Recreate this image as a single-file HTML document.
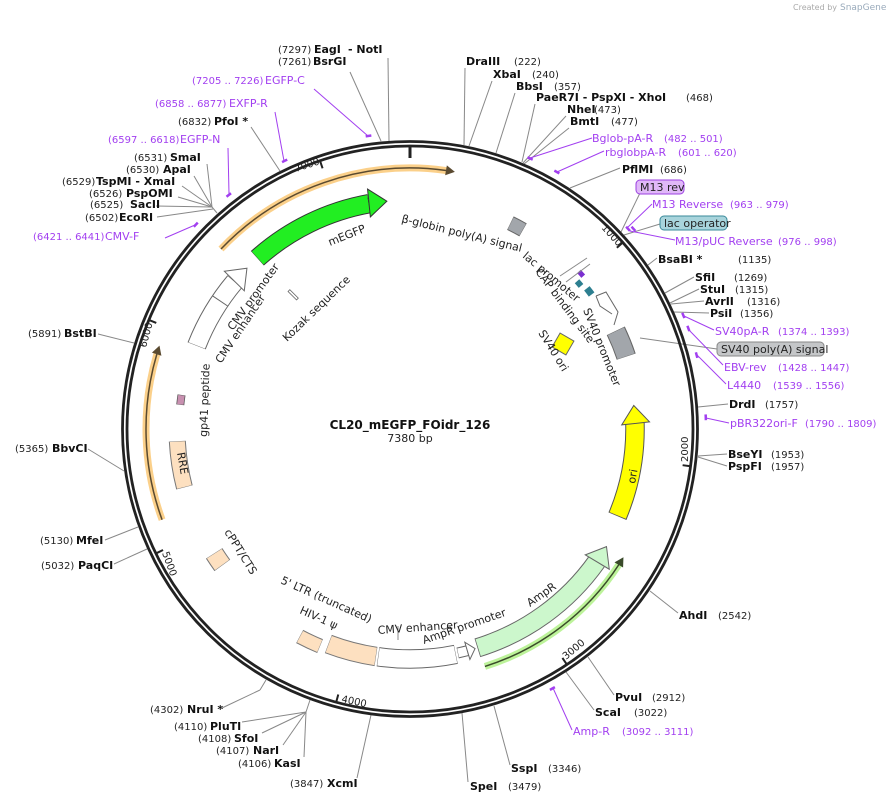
<!DOCTYPE html>
<html><head><meta charset="utf-8"><style>
html,body{margin:0;padding:0;background:#fff;width:891px;height:803px;overflow:hidden;}
svg{display:block;font-family:"DejaVu Sans","Liberation Sans",sans-serif;}
.n{font-size:10px;fill:#222;}
.b{font-size:11px;font-weight:bold;fill:#111;}
.p{font-size:11px;fill:#a23ff0;}
.pn{font-size:10px;fill:#a23ff0;}
.f{font-size:11px;fill:#222;}
.l{stroke:#888;stroke-width:1;fill:none;}
.pl{stroke:#a23ff0;stroke-width:1;fill:none;}
.pt{stroke:#a23ff0;stroke-width:2.5;fill:none;}
.t{font-size:10px;fill:#222;}
</style></head><body>
<svg width="891" height="803" viewBox="0 0 891 803" xmlns="http://www.w3.org/2000/svg">
<text x="793" y="10" font-size="8" fill="#aaa">Created by</text>
<text x="840" y="10" font-size="9" fill="#9ab">SnapGene</text>

<g class="l">
<line x1="464" y1="145" x2="465" y2="68"/>
<line x1="469" y1="146" x2="492" y2="81"/>
<line x1="496" y1="153" x2="515" y2="93"/>
<line x1="522" y1="162" x2="535" y2="104"/>
<line x1="523" y1="163" x2="566" y2="116"/>
<line x1="524" y1="164" x2="569" y2="128"/>
<line x1="570" y1="188" x2="620" y2="168"/>
<line x1="621" y1="232" x2="640" y2="193"/>
<line x1="624" y1="235" x2="660" y2="224"/>
<line x1="648" y1="265" x2="657" y2="258"/>
<line x1="665" y1="293" x2="694" y2="277"/>
<line x1="670" y1="303" x2="699" y2="289"/>
<line x1="671" y1="304" x2="704" y2="301"/>
<line x1="674" y1="312" x2="709" y2="313"/>
<line x1="640" y1="338" x2="717" y2="349"/>
<line x1="698" y1="407" x2="728" y2="404"/>
<line x1="698" y1="456" x2="727" y2="454"/>
<line x1="698" y1="457" x2="727" y2="466"/>
<line x1="650" y1="591" x2="678" y2="613"/>
<line x1="588" y1="657" x2="614" y2="695"/>
<line x1="566" y1="672" x2="594" y2="710"/>
<line x1="494" y1="706" x2="510" y2="765"/>
<line x1="462" y1="713" x2="468" y2="782"/>
<line x1="371" y1="715" x2="357" y2="778"/>
<line x1="310" y1="700" x2="306" y2="712"/>
<line x1="306" y1="712" x2="304" y2="757"/>
<line x1="306" y1="712" x2="283" y2="745"/>
<line x1="306" y1="712" x2="262" y2="733"/>
<line x1="306" y1="712" x2="242" y2="722"/>
<line x1="266" y1="680" x2="260" y2="690"/>
<line x1="260" y1="690" x2="222" y2="708"/>
<line x1="147" y1="549" x2="114" y2="564"/>
<line x1="138" y1="527" x2="105" y2="540"/>
<line x1="124" y1="471" x2="88" y2="449"/>
<line x1="134" y1="343" x2="98" y2="334"/>
<line x1="217" y1="213" x2="212" y2="207"/>
<line x1="212" y1="207" x2="207" y2="164"/>
<line x1="212" y1="207" x2="194" y2="176"/>
<line x1="212" y1="207" x2="182" y2="186"/>
<line x1="212" y1="207" x2="178" y2="197"/>
<line x1="212" y1="207" x2="156" y2="206"/>
<line x1="213" y1="209" x2="157" y2="217"/>
<line x1="280" y1="171" x2="251" y2="127"/>
<line x1="381" y1="141" x2="350" y2="72"/>
<line x1="389" y1="141" x2="388" y2="58"/>
</g>
<g class="pl">
<line x1="530" y1="158" x2="592" y2="138"/>
<line x1="557" y1="172" x2="604" y2="151"/>
<line x1="627" y1="228" x2="652" y2="204"/>
<line x1="630" y1="231" x2="675" y2="240"/>
<line x1="684" y1="316" x2="714" y2="330"/>
<line x1="688" y1="329" x2="723" y2="365"/>
<line x1="696" y1="354" x2="726" y2="384"/>
<line x1="706" y1="418" x2="729" y2="423"/>
<line x1="553" y1="688" x2="572" y2="730"/>
<line x1="195" y1="225" x2="165" y2="238"/>
<line x1="229" y1="194" x2="228" y2="148"/>
<line x1="284" y1="161" x2="275" y2="112"/>
<line x1="368" y1="136" x2="314" y2="89"/>
</g>
<g class="pt">
<circle cx="410" cy="429" r="296" pathLength="360" stroke-dasharray="1 359" transform="rotate(-66.5 410 429)"/>
<circle cx="410" cy="429" r="296" pathLength="360" stroke-dasharray="1 359" transform="rotate(-60.7 410 429)"/>
<circle cx="410" cy="429" r="296" pathLength="360" stroke-dasharray="1 359" transform="rotate(-43 410 429)"/>
<circle cx="410" cy="429" r="300" pathLength="360" stroke-dasharray="1.1 359" transform="rotate(-42.4 410 429)"/>
<circle cx="410" cy="429" r="296" pathLength="360" stroke-dasharray="1 359" transform="rotate(-23 410 429)"/>
<circle cx="410" cy="429" r="296" pathLength="360" stroke-dasharray="1 359" transform="rotate(-20.3 410 429)"/>
<circle cx="410" cy="429" r="296" pathLength="360" stroke-dasharray="1 359" transform="rotate(-14.9 410 429)"/>
<circle cx="410" cy="429" r="296" pathLength="360" stroke-dasharray="1 359" transform="rotate(-2.7 410 429)"/>
<circle cx="410" cy="429" r="296" pathLength="360" stroke-dasharray="1 359" transform="rotate(60.8 410 429)"/>
<circle cx="410" cy="429" r="296" pathLength="360" stroke-dasharray="1 359" transform="rotate(223.2 410 429)"/>
<circle cx="410" cy="429" r="296" pathLength="360" stroke-dasharray="1 359" transform="rotate(231.8 410 429)"/>
<circle cx="410" cy="429" r="296" pathLength="360" stroke-dasharray="1 359" transform="rotate(244.5 410 429)"/>
<circle cx="410" cy="429" r="296" pathLength="360" stroke-dasharray="1 359" transform="rotate(261.5 410 429)"/>
</g>

<circle cx="410" cy="429" r="287.5" fill="none" stroke="#222" stroke-width="2.8"/>
<circle cx="410" cy="429" r="283" fill="none" stroke="#222" stroke-width="2.8"/>
<g stroke="#222" stroke-width="2">
<line x1="410" y1="147" x2="410" y2="158" stroke-width="3"/>
<line x1="410" y1="147" x2="410" y2="154" transform="rotate(48.78 410 429)"/>
<line x1="410" y1="147" x2="410" y2="154" transform="rotate(97.56 410 429)"/>
<line x1="410" y1="147" x2="410" y2="154" transform="rotate(146.34 410 429)"/>
<line x1="410" y1="147" x2="410" y2="154" transform="rotate(195.12 410 429)"/>
<line x1="410" y1="147" x2="410" y2="154" transform="rotate(243.9 410 429)"/>
<line x1="410" y1="147" x2="410" y2="154" transform="rotate(292.68 410 429)"/>
<line x1="410" y1="147" x2="410" y2="154" transform="rotate(341.46 410 429)"/>
</g>
<g class="t">
<text x="296" y="172" transform="rotate(-18 296 172)">7000</text>
<text x="601" y="228" transform="rotate(48 601 228)">1000</text>
<text x="688" y="462" transform="rotate(-90 688 462)">2000</text>
<text x="566" y="660" transform="rotate(-40 566 660)">3000</text>
<text x="341" y="702" transform="rotate(12 341 702)">4000</text>
<text x="162" y="553" transform="rotate(70 162 553)">5000</text>
<text x="146" y="348" transform="rotate(-75 146 348)">6000</text>
</g>

<g fill="none">
<circle cx="410" cy="429" r="261" pathLength="360" stroke="#fbd08a" stroke-width="7" stroke-dasharray="54.4 360" transform="rotate(223.6 410 429)"/>
<circle cx="410" cy="429" r="261" pathLength="360" stroke="#5a4a30" stroke-width="1.5" stroke-dasharray="54.4 360" transform="rotate(223.6 410 429)"/>
<circle cx="410" cy="429" r="264" pathLength="360" stroke="#fbd08a" stroke-width="7" stroke-dasharray="36.6 360" transform="rotate(159.9 410 429)"/>
<circle cx="410" cy="429" r="264" pathLength="360" stroke="#5a4a30" stroke-width="1.5" stroke-dasharray="36.6 360" transform="rotate(159.9 410 429)"/>
<circle cx="410" cy="429" r="249" pathLength="360" stroke="#bdf39a" stroke-width="7" stroke-dasharray="39.5 360" transform="rotate(33 410 429)"/>
<circle cx="410" cy="429" r="249" pathLength="360" stroke="#3a4a2a" stroke-width="1.5" stroke-dasharray="39.5 360" transform="rotate(33 410 429)"/>
</g>
<polygon points="401,163 410,168 401,173" fill="#5a4a30" transform="rotate(9.9 410 429)"/>
<polygon points="401,160 410,165 401,170" fill="#5a4a30" transform="rotate(288.4 410 429)"/>
<polygon points="419,175 410,180 419,185" fill="#3a4a2a" transform="rotate(121 410 429)"/>

<g fill="none">
<circle cx="410" cy="429" r="229" pathLength="360" stroke="#333" stroke-width="19.5" stroke-dasharray="31.5 360" transform="rotate(228.2 410 429)"/>
<circle cx="410" cy="429" r="229" pathLength="360" stroke="#22ee22" stroke-width="17.5" stroke-dasharray="31.3 360" transform="rotate(228.3 410 429)"/>
<circle cx="410" cy="429" r="229" pathLength="360" stroke="#666" stroke-width="19.5" stroke-dasharray="18.8 360" transform="rotate(201.3 410 429)"/>
<circle cx="410" cy="429" r="229" pathLength="360" stroke="#fff" stroke-width="17.5" stroke-dasharray="18.6 360" transform="rotate(201.4 410 429)"/>
<circle cx="410" cy="429" r="225" pathLength="360" stroke="#555" stroke-width="19.5" stroke-dasharray="24.3 360" transform="rotate(-1.5 410 429)"/>
<circle cx="410" cy="429" r="225" pathLength="360" stroke="#ffff00" stroke-width="17.5" stroke-dasharray="24.1 360" transform="rotate(-1.5 410 429)"/>
<circle cx="410" cy="429" r="229" pathLength="360" stroke="#666" stroke-width="19.5" stroke-dasharray="37.5 360" transform="rotate(35.4 410 429)"/>
<circle cx="410" cy="429" r="229" pathLength="360" stroke="#ccf7cc" stroke-width="17.5" stroke-dasharray="37.3 360" transform="rotate(35.4 410 429)"/>
<circle cx="410" cy="429" r="229" pathLength="360" stroke="#666" stroke-width="11" stroke-dasharray="2.5 360" transform="rotate(75.5 410 429)"/>
<circle cx="410" cy="429" r="229" pathLength="360" stroke="#fff" stroke-width="9" stroke-dasharray="2.3 360" transform="rotate(75.6 410 429)"/>
<circle cx="410" cy="429" r="230" pathLength="360" stroke="#666" stroke-width="19.5" stroke-dasharray="19.5 360" transform="rotate(78.5 410 429)"/>
<circle cx="410" cy="429" r="230" pathLength="360" stroke="#fff" stroke-width="17.5" stroke-dasharray="19.3 360" transform="rotate(78.6 410 429)"/>
<circle cx="410" cy="429" r="230" pathLength="360" stroke="#777" stroke-width="19.5" stroke-dasharray="12.3 360" transform="rotate(98.5 410 429)"/>
<circle cx="410" cy="429" r="230" pathLength="360" stroke="#fde0c0" stroke-width="17.5" stroke-dasharray="12.1 360" transform="rotate(98.6 410 429)"/>
<circle cx="410" cy="429" r="235" pathLength="360" stroke="#777" stroke-width="15" stroke-dasharray="5.5 360" transform="rotate(112.5 410 429)"/>
<circle cx="410" cy="429" r="235" pathLength="360" stroke="#fde0c0" stroke-width="13" stroke-dasharray="5.3 360" transform="rotate(112.6 410 429)"/>
<circle cx="410" cy="429" r="232" pathLength="360" stroke="#777" stroke-width="19.5" stroke-dasharray="3.6 360" transform="rotate(144 410 429)"/>
<circle cx="410" cy="429" r="232" pathLength="360" stroke="#fde0c0" stroke-width="17.5" stroke-dasharray="3.4 360" transform="rotate(144.1 410 429)"/>
<circle cx="410" cy="429" r="233" pathLength="360" stroke="#777" stroke-width="17" stroke-dasharray="11.5 360" transform="rotate(165.5 410 429)"/>
<circle cx="410" cy="429" r="233" pathLength="360" stroke="#fde0c0" stroke-width="15" stroke-dasharray="11.3 360" transform="rotate(165.6 410 429)"/>
<circle cx="410" cy="429" r="231" pathLength="360" stroke="#555" stroke-width="8" stroke-dasharray="2.5 360" transform="rotate(186 410 429)"/>
<circle cx="410" cy="429" r="231" pathLength="360" stroke="#c890b0" stroke-width="6.5" stroke-dasharray="2.3 360" transform="rotate(186.1 410 429)"/>
<circle cx="410" cy="429" r="229" pathLength="360" stroke="#666" stroke-width="15" stroke-dasharray="3.6 360" transform="rotate(-64 410 429)"/>
<circle cx="410" cy="429" r="229" pathLength="360" stroke="#a2a6ab" stroke-width="13" stroke-dasharray="3.4 360" transform="rotate(-63.9 410 429)"/>
<circle cx="410" cy="429" r="228" pathLength="360" stroke="#666" stroke-width="20" stroke-dasharray="7 360" transform="rotate(-25.5 410 429)"/>
<circle cx="410" cy="429" r="228" pathLength="360" stroke="#a2a6ab" stroke-width="18" stroke-dasharray="6.8 360" transform="rotate(-25.4 410 429)"/>
<circle cx="410" cy="429" r="231" pathLength="360" stroke="#7b2fd0" stroke-width="5" stroke-dasharray="1.6 360" transform="rotate(-43 410 429)"/>
<circle cx="410" cy="429" r="223" pathLength="360" stroke="#2d7f90" stroke-width="6" stroke-dasharray="1.6 360" transform="rotate(-41.5 410 429)"/>
<circle cx="410" cy="429" r="226" pathLength="360" stroke="#2d7f90" stroke-width="7" stroke-dasharray="2 360" transform="rotate(-38.5 410 429)"/>
</g>
<polygon points="392,186 410,200 392,214" fill="#22ee22" stroke="#333" stroke-width="1" transform="rotate(354.2 410 429)"/>
<polygon points="392,186 410,200 392,214" fill="#fff" stroke="#666" stroke-width="1" transform="rotate(314.6 410 429)"/>
<polygon points="428,190 410,204 428,218" fill="#ffff00" stroke="#555" stroke-width="1" transform="rotate(84 410 429)"/>
<polygon points="428,186 410,200 428,214" fill="#ccf7cc" stroke="#666" stroke-width="1" transform="rotate(120.9 410 429)"/>
<polygon points="418,191 410,200 418,209" fill="#fff" stroke="#666" stroke-width="1" transform="rotate(163.5 410 429)"/>
<line x1="410" y1="191" x2="410" y2="209" stroke="#666" transform="rotate(304 410 429)"/>
<polyline points="596,296 606,292 618,312 614,325" fill="none" stroke="#666"/>
<polyline points="596,296 600,306 612,314" fill="none" stroke="#666"/>
<rect x="555" y="336" width="16" height="16" fill="#ffff00" stroke="#666" transform="rotate(30 563 344)"/>
<rect x="292" y="289" width="2.5" height="12" fill="#fff" stroke="#666" stroke-width="0.8" transform="rotate(-45 293 295)"/>
<line x1="587" y1="258" x2="560" y2="276" stroke="#888"/>
<line x1="590" y1="264" x2="566" y2="282" stroke="#888"/>
<line x1="398" y1="626" x2="398" y2="640" stroke="#888"/>

<g class="f">
<text x="330" y="246" transform="rotate(-22 330 246)">mEGFP</text>
<text x="401" y="222" transform="rotate(14 401 222)">β-globin poly(A) signal</text>
<text x="522" y="257" transform="rotate(40 522 257)">lac promoter</text>
<text x="535" y="272" transform="rotate(53 535 272)">CAP binding site</text>
<text x="583" y="310" transform="rotate(68 583 310)">SV40 promoter</text>
<text x="538" y="333" transform="rotate(58 538 333)">SV40 ori</text>
<text x="635" y="484" transform="rotate(-80 635 484)">ori</text>
<text x="530" y="607" transform="rotate(-35 530 607)">AmpR</text>
<text x="424" y="644" transform="rotate(-19 424 644)">AmpR promoter</text>
<text x="378" y="634" transform="rotate(-4 378 634)">CMV enhancer</text>
<text x="280" y="583" transform="rotate(24 280 583)">5' LTR (truncated)</text>
<text x="299" y="613" transform="rotate(24 299 613)">HIV-1 ψ</text>
<text x="224" y="532" transform="rotate(58 224 532)">cPPT/CTS</text>
<text x="177" y="453" transform="rotate(80 177 453)">RRE</text>
<text x="207" y="437" transform="rotate(-88 207 437)">gp41 peptide</text>
<text x="221" y="364" transform="rotate(-56 221 364)">CMV enhancer</text>
<text x="233" y="331" transform="rotate(-54 233 331)">CMV promoter</text>
<text x="287" y="342" transform="rotate(-44 287 342)">Kozak sequence</text>
</g>
<text x="410" y="429" text-anchor="middle" font-size="12" font-weight="bold" fill="#111">CL20_mEGFP_FOidr_126</text>
<text x="410" y="442" text-anchor="middle" font-size="11" fill="#222">7380 bp</text>

<text x="466" y="65" class="b">DraIII</text><text x="514" y="65" class="n">(222)</text>
<text x="493" y="78" class="b">XbaI</text><text x="532" y="78" class="n">(240)</text>
<text x="516" y="90" class="b">BbsI</text><text x="554" y="90" class="n">(357)</text>
<text x="536" y="101" class="b">PaeR7I  - PspXI  - XhoI</text><text x="686" y="101" class="n">(468)</text>
<text x="567" y="113" class="b">NheI</text><text x="594" y="113" class="n">(473)</text>
<text x="570" y="125" class="b">BmtI</text><text x="611" y="125" class="n">(477)</text>
<text x="592" y="142" class="p">Bglob-pA-R</text><text x="664" y="142" class="pn">(482 .. 501)</text>
<text x="605" y="156" class="p">rbglobpA-R</text><text x="678" y="156" class="pn">(601 .. 620)</text>
<text x="622" y="173" class="b">PflMI</text><text x="660" y="173" class="n">(686)</text>
<rect x="636" y="180" width="48" height="14" rx="4" fill="#e0b8f8" stroke="#9b40e0"/>
<text x="640" y="191" font-size="11" fill="#222">M13 rev</text>
<text x="652" y="208" class="p">M13 Reverse</text><text x="730" y="208" class="pn">(963 .. 979)</text>
<rect x="660" y="216" width="67" height="14" rx="4" fill="#a8d4dc" stroke="#3a8a9a"/>
<text x="664" y="227" font-size="11" fill="#222">lac operator</text>
<text x="675" y="245" class="p">M13/pUC Reverse</text><text x="778" y="245" class="pn">(976 .. 998)</text>
<text x="658" y="263" class="b">BsaBI *</text><text x="738" y="263" class="n">(1135)</text>
<text x="695" y="281" class="b">SfiI</text><text x="734" y="281" class="n">(1269)</text>
<text x="700" y="293" class="b">StuI</text><text x="735" y="293" class="n">(1315)</text>
<text x="705" y="305" class="b">AvrII</text><text x="747" y="305" class="n">(1316)</text>
<text x="710" y="317" class="b">PsiI</text><text x="740" y="317" class="n">(1356)</text>
<text x="715" y="335" class="p">SV40pA-R</text><text x="778" y="335" class="pn">(1374 .. 1393)</text>
<rect x="717" y="342" width="107" height="14" rx="4" fill="#c4c6c8" stroke="#888"/>
<text x="721" y="353" font-size="11" fill="#222">SV40 poly(A) signal</text>
<text x="724" y="371" class="p">EBV-rev</text><text x="778" y="371" class="pn">(1428 .. 1447)</text>
<text x="727" y="389" class="p">L4440</text><text x="773" y="389" class="pn">(1539 .. 1556)</text>
<text x="729" y="408" class="b">DrdI</text><text x="765" y="408" class="n">(1757)</text>
<text x="730" y="427" class="p">pBR322ori-F</text><text x="805" y="427" class="pn">(1790 .. 1809)</text>
<text x="728" y="458" class="b">BseYI</text><text x="771" y="458" class="n">(1953)</text>
<text x="728" y="470" class="b">PspFI</text><text x="771" y="470" class="n">(1957)</text>
<text x="679" y="619" class="b">AhdI</text><text x="718" y="619" class="n">(2542)</text>
<text x="615" y="701" class="b">PvuI</text><text x="652" y="701" class="n">(2912)</text>
<text x="595" y="716" class="b">ScaI</text><text x="634" y="716" class="n">(3022)</text>
<text x="573" y="735" class="p">Amp-R</text><text x="622" y="735" class="pn">(3092 .. 3111)</text>
<text x="511" y="772" class="b">SspI</text><text x="548" y="772" class="n">(3346)</text>
<text x="470" y="790" class="b">SpeI</text><text x="508" y="790" class="n">(3479)</text>
<text x="290" y="787" class="n">(3847)</text><text x="327" y="787" class="b">XcmI</text>
<text x="238" y="767" class="n">(4106)</text><text x="274" y="767" class="b">KasI</text>
<text x="216" y="754" class="n">(4107)</text><text x="253" y="754" class="b">NarI</text>
<text x="198" y="742" class="n">(4108)</text><text x="234" y="742" class="b">SfoI</text>
<text x="174" y="730" class="n">(4110)</text><text x="210" y="730" class="b">PluTI</text>
<text x="150" y="713" class="n">(4302)</text><text x="187" y="713" class="b">NruI *</text>
<text x="41" y="569" class="n">(5032)</text><text x="78" y="569" class="b">PaqCI</text>
<text x="40" y="544" class="n">(5130)</text><text x="76" y="544" class="b">MfeI</text>
<text x="15" y="452" class="n">(5365)</text><text x="52" y="452" class="b">BbvCI</text>
<text x="28" y="337" class="n">(5891)</text><text x="64" y="337" class="b">BstBI</text>
<text x="33" y="240" class="pn">(6421 .. 6441)</text><text x="105" y="240" class="p">CMV-F</text>
<text x="85" y="221" class="n">(6502)</text><text x="119" y="221" class="b">EcoRI</text>
<text x="90" y="208" class="n">(6525)</text><text x="130" y="208" class="b">SacII</text>
<text x="89" y="197" class="n">(6526)</text><text x="126" y="197" class="b">PspOMI</text>
<text x="62" y="185" class="n">(6529)</text><text x="96" y="185" class="b">TspMI  - XmaI</text>
<text x="126" y="173" class="n">(6530)</text><text x="163" y="173" class="b">ApaI</text>
<text x="134" y="161" class="n">(6531)</text><text x="170" y="161" class="b">SmaI</text>
<text x="108" y="143" class="pn">(6597 .. 6618)</text><text x="180" y="143" class="p">EGFP-N</text>
<text x="178" y="125" class="n">(6832)</text><text x="214" y="125" class="b">PfoI *</text>
<text x="155" y="107" class="pn">(6858 .. 6877)</text><text x="229" y="107" class="p">EXFP-R</text>
<text x="192" y="84" class="pn">(7205 .. 7226)</text><text x="265" y="84" class="p">EGFP-C</text>
<text x="278" y="65" class="n">(7261)</text><text x="313" y="65" class="b">BsrGI</text>
<text x="278" y="53" class="n">(7297)</text><text x="314" y="53" class="b">EagI</text><text x="348" y="53" class="b">- NotI</text>
</svg>
</body></html>
